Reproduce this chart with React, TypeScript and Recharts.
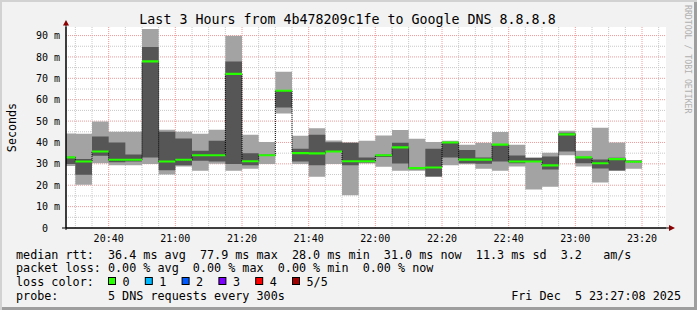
import React from 'react';
import { ComposedChart, Area, Line, XAxis, YAxis, CartesianGrid } from 'recharts';

// start of each 5 minute slot, in minutes after 20:00
const slotStart = [
  25, 30, 35, 40, 45, 50, 55, 60, 65, 70, 75, 80, 85, 90, 95, 100, 105, 110,
  115, 120, 125, 130, 135, 140, 145, 150, 155, 160, 165, 170, 175, 180, 185, 190, 195,
];

// the 5 pings of each slot, sorted (ms)
const pingMin = [
  29.0, 20.2, 30.3, 29.4, 29.4, 29.9, 25.0, 28.8, 26.8, 30.0, 26.8, 27.7, 29.9, 53.6, 29.9, 24.0, 29.9, 15.3,
  30.2, 28.7, 26.8, 26.8, 24.0, 29.4, 29.8, 27.7, 26.8, 28.8, 18.0, 19.3, 34.0, 28.8, 21.3, 26.8, 27.7,
];
const pingLow = [
  29.9, 24.9, 33.8, 30.8, 31.1, 33.0, 27.0, 29.3, 31.5, 31.1, 29.9, 29.3, 33.7, 56.4, 31.1, 29.3, 35.6, 29.3,
  30.6, 33.2, 30.2, 27.5, 24.1, 33.0, 30.3, 30.0, 31.1, 30.3, 31.0, 27.3, 35.8, 30.3, 27.8, 26.9, 30.9,
];
const medianRtt = [
  33.0, 31.1, 35.8, 31.9, 31.9, 77.9, 31.1, 31.9, 34.0, 34.0, 72.1, 31.2, 34.0, 64.2, 35.0, 34.9, 35.8, 31.2,
  31.2, 34.0, 37.7, 28.0, 28.3, 40.0, 32.0, 32.0, 39.0, 31.1, 31.1, 29.3, 43.8, 33.0, 30.3, 32.2, 31.0,
];
const pingHigh = [
  33.3, 32.3, 42.8, 40.0, 34.4, 84.7, 45.0, 41.8, 36.1, 40.8, 77.9, 34.9, 34.3, 64.3, 37.1, 43.6, 40.1, 39.9,
  33.0, 34.2, 39.9, 28.2, 37.1, 40.1, 36.5, 33.0, 39.1, 33.9, 32.8, 33.4, 44.6, 33.1, 32.0, 32.8, 31.5,
];
const pingMax = [
  44.2, 44.1, 49.8, 45.0, 45.0, 93.1, 45.9, 45.0, 44.1, 45.9, 89.9, 43.6, 40.2, 73.1, 43.1, 46.7, 40.9, 40.0,
  40.8, 43.3, 45.8, 41.7, 40.2, 40.8, 38.9, 39.9, 44.9, 38.9, 32.9, 35.2, 45.5, 36.1, 46.9, 40.0, 31.8,
];

const timeTicks = [40, 60, 80, 100, 120, 140, 160, 180, 200];
const timeLabels = ['20:40', '21:00', '21:20', '21:40', '22:00', '22:20', '22:40', '23:00', '23:20'];
const rttTicks = [0, 10, 20, 30, 40, 50, 60, 70, 80, 90];
const rttLabels = ['0  ', '10 m', '20 m', '30 m', '40 m', '50 m', '60 m', '70 m', '80 m', '90 m'];

const lossLabels = ['0', '1', '2', '3', '4', '5/5'];
const lossColors = ['#26ff00', '#00b8ff', '#0059ff', '#7e00ff', '#ff0000', '#a10000'];

const rows: any[] = slotStart.map((t, i) => ({
  t,
  outer: [pingMin[i], pingMax[i]],
  inner: [pingLow[i], pingHigh[i]],
  med: medianRtt[i],
  band: [medianRtt[i] - 0.5, medianRtt[i] + 0.5],
}));
// close the last step at the end of its slot
rows.push({ ...rows[rows.length - 1], t: slotStart[slotStart.length - 1] + 5 });

const minorX = Array.from({ length: 36 }, (_, i) => 30 + i * 5).filter(v => v % 20 !== 0);
const majorX = timeTicks;
const minorY = [5, 15, 25, 35, 45, 55, 65, 75, 85];
const majorY = rttTicks.slice(1);

const MONO = '"DejaVu Sans Mono", monospace';
const PRE: React.CSSProperties = { whiteSpace: 'pre' };

const TimeTick = ({ x, y, payload }: any) => (
  <text x={x} y={y + 14} textAnchor="middle" fontFamily={MONO} fontSize={10} fill="#000">
    {timeLabels[timeTicks.indexOf(payload.value)]}
  </text>
);

const RttTick = ({ x, y, payload }: any) => (
  <text x={x} y={y + 3.6} textAnchor="end" xmlSpace="preserve" style={PRE} fontFamily={MONO} fontSize={10} fill="#000">
    {rttLabels[rttTicks.indexOf(payload.value)]}
  </text>
);

const App: React.FC = () => {
  return (
    <div
      style={{
        position: 'absolute', left: 0, top: 0, width: 697, height: 310,
        background: '#f2f2f2',
        boxShadow: 'inset 2px 2px 0 #d2d2d2, inset -3px -3px 0 #9e9e9e',
      }}
    >
      <ComposedChart
        width={697}
        height={310}
        data={rows}
        margin={{ top: 27, right: 31, bottom: 0, left: 0 }}
        style={{ position: 'absolute', left: 0, top: 0 }}
      >
        <CartesianGrid
          fill="#ffffff"
          stroke="#c8c8c8"
          strokeDasharray="1 1"
          horizontalValues={minorY}
          verticalValues={minorX}
        />
        <CartesianGrid
          stroke="#f29a9a"
          strokeDasharray="1 1"
          horizontalValues={majorY}
          verticalValues={majorX}
        />
        <XAxis
          type="number"
          dataKey="t"
          domain={[27.2, 207.2]}
          allowDataOverflow
          ticks={timeTicks}
          interval={0}
          height={82}
          tickSize={0}
          tickMargin={0}
          tickLine={false}
          axisLine={{ stroke: '#000' }}
          tick={<TimeTick />}
        />
        <YAxis
          type="number"
          domain={[0, 94]}
          allowDataOverflow
          ticks={rttTicks}
          interval={0}
          width={66}
          tickSize={0}
          tickMargin={6}
          tickLine={false}
          axisLine={{ stroke: '#000' }}
          tick={<RttTick />}
        />
        <Area dataKey="outer" type="stepAfter" fill="#a3a3a3" fillOpacity={1} stroke="none" isAnimationActive={false} />
        <Area dataKey="inner" type="stepAfter" fill="#565656" fillOpacity={1} stroke="none" isAnimationActive={false} />
        <Line
          dataKey="med"
          type="stepAfter"
          stroke="#000"
          strokeWidth={1}
          strokeDasharray="1 1"
          dot={false}
          activeDot={false}
          isAnimationActive={false}
        />
        <Area
          dataKey="band"
          type="stepAfter"
          fill="#26ff00"
          fillOpacity={1}
          stroke="none"
          zIndex={450}
          isAnimationActive={false}
        />
      </ComposedChart>

      <svg
        width={697}
        height={310}
        style={{ position: 'absolute', left: 0, top: 0, pointerEvents: 'none' }}
        fontFamily={MONO}
      >
        <text x={347.5} y={24} textAnchor="middle" fontSize={13.3} fill="#000">
          Last 3 Hours from 4b478209c1fe to Google DNS 8.8.8.8
        </text>
        <text x={0} y={0} transform="translate(15.5 127.5) rotate(-90)" textAnchor="middle" fontSize={11.7} fill="#000">
          Seconds
        </text>
        <text x={0} y={0} transform="translate(685 5) rotate(90)" fontSize={8.2} fill="#b0b0b0">
          RRDTOOL / TOBI OETIKER
        </text>

        {/* axis extensions and arrows */}
        <line x1={62} y1={228} x2={670} y2={228} stroke="#000" strokeWidth={1} />
        <line x1={66} y1={22} x2={66} y2={230} stroke="#000" strokeWidth={1} />
        <polygon points="63,25.5 69,25.5 66,20" fill="#8b0000" />
        <polygon points="669,225 669,231 675,228" fill="#8b0000" />

        <g fontSize={11.75} fill="#000">
          <text x={16} y={258.5} xmlSpace="preserve" style={PRE}>median rtt:  36.4 ms avg  77.9 ms max  28.0 ms min  31.0 ms now  11.3 ms sd  3.2   am/s</text>
          <text x={16} y={272} xmlSpace="preserve" style={PRE}>packet loss: 0.00 % avg  0.00 % max  0.00 % min  0.00 % now</text>
          <text x={16} y={286}>loss color:</text>
          {lossLabels.map((lbl, i) => (
            <g key={lbl}>
              <rect x={108.5 + i * 36.8} y={277.5} width={7} height={7} fill={lossColors[i]} stroke="#000" strokeWidth={1} />
              <text x={122.5 + i * 36.8} y={286}>{lbl}</text>
            </g>
          ))}
          <text x={16} y={300} xmlSpace="preserve" style={PRE}>probe:       5 DNS requests every 300s</text>
          <text x={681} y={300} textAnchor="end" xmlSpace="preserve" style={PRE}>Fri Dec  5 23:27:08 2025</text>
        </g>
      </svg>
    </div>
  );
};

export default App;
